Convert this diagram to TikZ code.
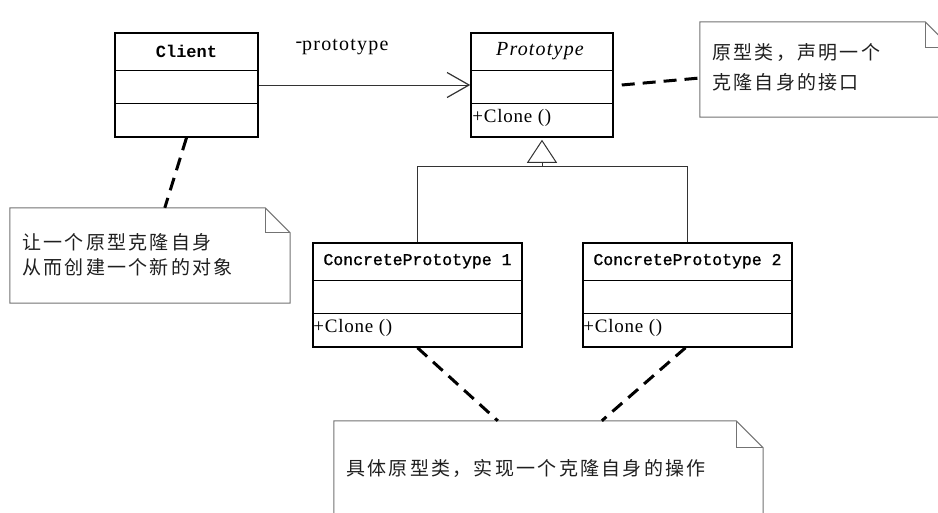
\documentclass[tikz,border=0pt]{standalone}
\usepackage{fontspec}
\setmainfont{Liberation Serif}
\newfontfamily\cjk[LetterSpace=12]{Noto Sans CJK SC}
\newfontfamily\monofnt{Liberation Mono}
\newfontfamily\monobold[FakeBold=1.2]{Liberation Mono}
\newfontfamily\serifsp[LetterSpace=6]{Liberation Serif}
\newfontfamily\serifop[LetterSpace=4]{Liberation Serif}
\usetikzlibrary{arrows.meta,calc}
\tikzset{
  classbox/.style={draw=black, line width=1.5pt, inner sep=0pt, minimum height=104pt},
  divider/.style={draw=black, line width=1.3pt},
  notebox/.style={inner sep=0pt},
  noteline/.style={draw=black!55, line width=1pt, line join=miter},
  notetext/.style={font=\cjk\fontsize{19}{25}\selectfont, text=black!88, anchor=west, align=left, inner sep=0pt},
  ctitle/.style={font=\monobold\fontsize{16.5}{18}\selectfont, inner sep=0pt},
  optext/.style={font=\serifop\fontsize{19}{22}\selectfont, anchor=west, inner sep=0pt},
  anchorline/.style={draw=black, line width=3pt, dash pattern=on 13pt off 8pt},
  assoc/.style={draw=black!80, line width=1pt},
}
\begin{document}
\begin{tikzpicture}[x=1pt,y=-1pt]
\useasboundingbox (0,0) rectangle (938,512);
\clip (0,0) rectangle (938,512);
\fill[white] (0,0) rectangle (938,512);

% ---- class boxes
\node[classbox, minimum width=143pt] (client) at (186.5,85) {};
\node[classbox, minimum width=142pt] (proto) at (542,85) {};
\node[classbox, minimum width=209pt] (cp1) at (417.5,295) {};
\node[classbox, minimum width=209pt] (cp2) at (687.5,295) {};
\foreach \c in {client,proto,cp1,cp2}{
  \draw[divider] ($(\c.north west)+(0,38)$) -- ($(\c.north east)+(0,38)$);
  \draw[divider] ($(\c.north west)+(0,71)$) -- ($(\c.north east)+(0,71)$);
}

% ---- class texts
\node[ctitle, font=\monofnt\bfseries\fontsize{17}{18}\selectfont] (clientname) at ($(client.north)+(0,19)$) {Client};
\node[inner sep=0pt, font=\serifsp\itshape\fontsize{20}{22}\selectfont] (protoname) at ($(proto.north)+(-2,19)$) {Prototype};
\node[optext] (protoop) at ($(proto.north west)+(2,86)$) {+Clone ()};
\node[ctitle] (cp1name) at ($(cp1.north)+(0,19)$) {ConcretePrototype 1};
\node[ctitle] (cp2name) at ($(cp2.north)+(0,19)$) {ConcretePrototype 2};
\node[optext] (cp1op) at ($(cp1.north west)+(1,86)$) {+Clone ()};
\node[optext] (cp2op) at ($(cp2.north west)+(1,86)$) {+Clone ()};

% ---- association
\draw[assoc, -{Straight Barb[length=22pt, width=25pt, line width=1.2pt]}] (client.east) -- (proto.west);
\node[inner sep=0pt, font=\serifsp\fontsize{20}{22}\selectfont] (rolename) at (342,47) {\raisebox{3pt}{-}prototype};

% ---- generalisation
\coordinate (junc) at ($(proto.south)+(0,29)$);
\draw[assoc, -{Triangle[open, length=23pt, width=30pt, line width=1pt]}] (cp1.north) |- (junc) -- ($(proto.south)+(0,2)$);
\draw[assoc] (cp2.north) |- (junc);

% ---- notes
\node[notebox, minimum width=251pt, minimum height=95pt] (pnote) at (825.5,69.5) {};
\node[notebox, minimum width=280pt, minimum height=95pt] (cnote) at (150,255.5) {};
\node[notebox, minimum width=429pt, minimum height=99pt] (bnote) at (548.5,470.5) {};
\foreach \n/\f in {pnote/26,cnote/25,bnote/27}{
  \draw[noteline] (\n.south west) -- (\n.north west) -- ($(\n.north east)+(-\f,0)$) -- ($(\n.north east)+(0,\f)$) -- (\n.south east) -- cycle;
  \draw[noteline] ($(\n.north east)+(-\f,0)$) -- ($(\n.north east)+(-\f,\f)$) -- ($(\n.north east)+(0,\f)$);
}
\node[notetext, font=\cjk\fontsize{19}{30}\selectfont] (pnotetext) at (712,67) {原型类，声明一个\\克隆自身的接口};
\node[notetext] (cnotetext) at (22,254.5) {让一个原型克隆自身\\从而创建一个新的对象};
\node[notetext] (bnotetext) at (346,468) {具体原型类，实现一个克隆自身的操作};

% ---- note anchors
\draw[anchorline] ($(proto.east)+(8,0)$) -- ($(pnote.west)+(0,8.5)$);
\draw[anchorline] (client.south) -- ($(cnote.north west)+(155,0)$);
\draw[anchorline] (cp1.south) -- ($(bnote.north west)+(164,0)$);
\draw[anchorline] ($(cp2.south)+(-2,0)$) -- ($(bnote.north west)+(268,0)$);
\end{tikzpicture}
\end{document}
